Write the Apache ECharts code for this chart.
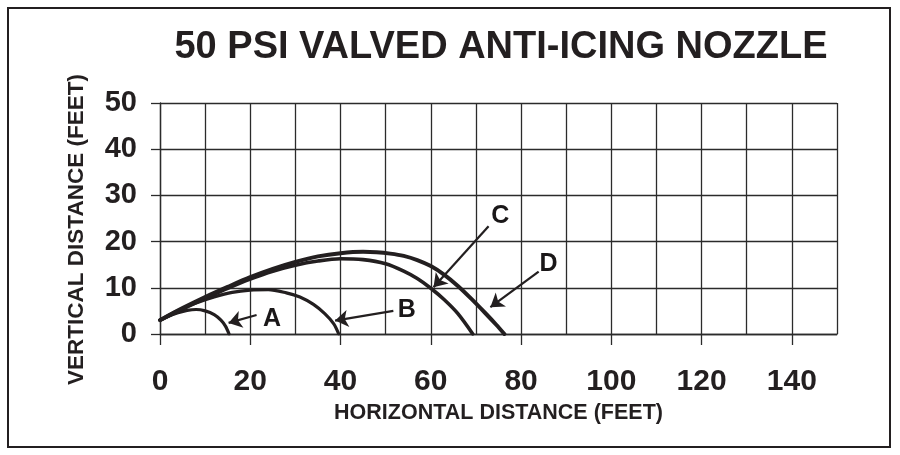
<!DOCTYPE html>
<html>
<head>
<meta charset="utf-8">
<script src="https://cdn.jsdelivr.net/npm/echarts@6/dist/echarts.min.js"></script>
<style>
html,body{margin:0;padding:0;background:#fff;}
#chart{width:900px;height:455px;}
</style>
</head>
<body>
<div id="chart"></div>
<script>
const titleText = '50 PSI VALVED ANTI-ICING NOZZLE';
const xName = 'HORIZONTAL DISTANCE (FEET)';
const yName = 'VERTICAL DISTANCE (FEET)';
const xTickLabels = [0, 20, 40, 60, 80, 100, 120, 140];
const yTickLabels = [0, 10, 20, 30, 40, 50];
const curveNames = ['A', 'B', 'C', 'D'];
const curveA = [[0,3],[2,3.9],[4,4.6],[6,5.1],[8,5.3],[10,5.0],[12,4.2],[13.5,3.0],[14.5,1.7],[15.3,0]];
const curveB = [[0,3],[4,5.1],[8,6.7],[12,8.0],[16,9.0],[20,9.5],[24,9.6],[28,8.9],[31,8.0],[34,6.4],[36.5,4.4],[38.5,2.2],[39.6,0]];
const curveC = [[0,3],[5,5.4],[10,7.7],[15,9.9],[20,11.9],[25,13.6],[30,14.9],[35,15.8],[40,16.3],[45,16.1],[50,15.2],[54,13.6],[57,12.0],[60,9.9],[63,7.4],[66,4.4],[69.3,0]];
const curveD = [[0,3],[5,5.6],[10,8.0],[15,10.2],[20,12.3],[25,14.1],[30,15.6],[35,16.8],[40,17.5],[45,17.8],[48,17.7],[51,17.4],[54,16.9],[57,16.0],[60,14.7],[63,12.8],[66,10.4],[69,7.6],[72,4.6],[74.5,2.0],[76.3,0]];
const arrowTails = [[21.4,4.1],[51.7,5.0],[72.8,23.3],[83.9,13.5]];
const arrowHeads = [[15.2,2.4],[38.8,2.9],[60.6,10.1],[73.2,5.8]];
const labelPos = [[24.8,3.4],[54.7,5.2],[75.4,25.7],[86.1,15.3]];

const INK = '#231f20';
const GRIDC = '#2b2b2b';
const FONT = '"Liberation Sans", Arial, Helvetica, sans-serif';
const curves = [curveA, curveB, curveC, curveD];
const widths = [3.2, 3.2, 3.6, 4];

const chart = echarts.init(document.getElementById('chart'), null, {renderer: 'canvas'});

const series = curves.map((c, i) => ({
  name: curveNames[i],
  type: 'line',
  data: c,
  smooth: 0.3,
  showSymbol: false,
  silent: true,
  lineStyle: {color: INK, width: widths[i], cap: 'round', join: 'round'},
  z: 5
}));

series[0].markLine = {
  silent: true,
  symbol: ['none', 'arrow'],
  symbolSize: 13,
  label: {show: false},
  lineStyle: {color: INK, width: 2.2, type: 'solid'},
  itemStyle: {color: INK},
  emphasis: {disabled: true},
  data: arrowTails.map((t, i) => [{coord: t}, {coord: arrowHeads[i]}])
};

series.push({
  type: 'scatter',
  silent: true,
  symbolSize: 0,
  itemStyle: {color: INK, opacity: 1},
  data: labelPos.map((p, i) => ({value: p, name: curveNames[i]})),
  label: {
    show: true,
    position: 'top',
    distance: -13,
    formatter: p => p.name,
    color: '#1a1718',
    opacity: 1,
    textBorderWidth: 0,
    fontFamily: FONT,
    fontWeight: 'bold',
    fontSize: 25
  },
  z: 6
});

const axisLineStyle = {color: GRIDC, width: 1.3};

chart.setOption({
  animation: false,
  backgroundColor: '#fff',
  title: {
    text: titleText,
    left: 496,
    top: 24,
    textAlign: 'center',
    textStyle: {color: INK, fontFamily: FONT, fontWeight: 'bold', fontSize: 38}
  },
  grid: {left: 160, right: 63, top: 103, bottom: 121, containLabel: false},
  xAxis: [{
    type: 'value',
    min: 0, max: 150, interval: 10,
    axisLine: {show: true, onZero: false, lineStyle: axisLineStyle},
    axisTick: {show: false},
    axisLabel: {show: false},
    splitLine: {show: true, lineStyle: axisLineStyle}
  }, {
    type: 'value',
    position: 'bottom',
    min: 0, max: 150, interval: 10,
    name: xName,
    nameLocation: 'middle',
    nameGap: 67,
    nameTextStyle: {color: INK, fontFamily: FONT, fontWeight: 'bold', fontSize: 21.5},
    axisLine: {show: false},
    splitLine: {show: false},
    axisTick: {show: true, customValues: xTickLabels, length: 11, lineStyle: axisLineStyle},
    axisLabel: {show: true, customValues: xTickLabels, margin: 33, color: INK, fontFamily: FONT, fontWeight: 'bold', fontSize: 30}
  }],
  yAxis: {
    type: 'value',
    min: 0, max: 50, interval: 10,
    name: yName,
    nameLocation: 'middle',
    nameGap: 72,
    nameTextStyle: {color: INK, fontFamily: FONT, fontWeight: 'bold', fontSize: 22.5, padding: [0, 22, 0, 0]},
    axisLine: {show: true, lineStyle: axisLineStyle},
    axisTick: {show: true, customValues: yTickLabels, length: 9, lineStyle: axisLineStyle},
    axisLabel: {show: true, customValues: yTickLabels, margin: 23, color: INK, fontFamily: FONT, fontWeight: 'bold', fontSize: 29},
    splitLine: {show: true, lineStyle: axisLineStyle}
  },
  graphic: [{
    type: 'rect',
    silent: true,
    shape: {x: 8, y: 8, width: 882, height: 439},
    style: {fill: 'none', stroke: INK, lineWidth: 2}
  }],
  series: series
});
</script>
</body>
</html>
